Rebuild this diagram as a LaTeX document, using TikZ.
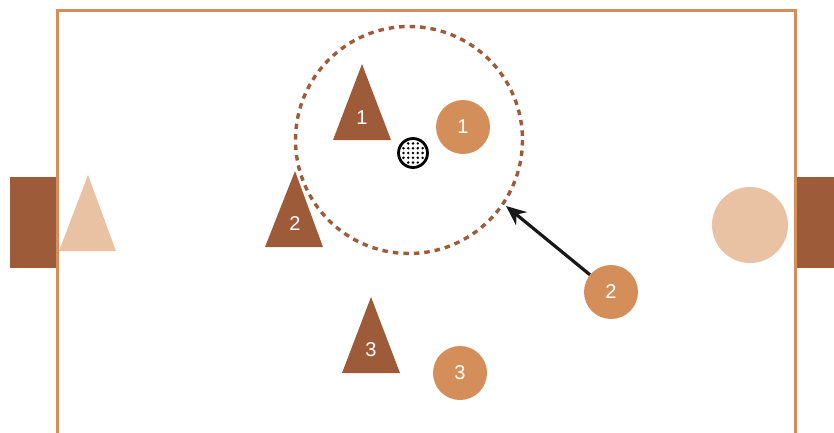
\documentclass[tikz,border=0pt]{standalone}
\usepackage{fontspec}
\setmainfont{Liberation Sans}
\usetikzlibrary{arrows.meta}
\definecolor{darkbrown}{HTML}{9E5B3A}
\definecolor{tan}{HTML}{D38E5A}
\definecolor{lighttan}{HTML}{E8C2A2}
\tikzset{
    player/.style={circle,fill=tan,minimum size=54pt,inner sep=0pt,text=white,
                   font=\fontsize{20}{20}\selectfont},
    num/.style={text=white,font=\fontsize{20}{20}\selectfont},
}
\begin{document}
\begin{tikzpicture}[x=1pt,y=-1pt]
                \useasboundingbox (0,0) rectangle (834,432);
                % field and goals
                \draw[tan,line width=3pt] (57,440) -- (57,10) -- (795,10) -- (795,440);
                \fill[darkbrown] (10,177) rectangle (55.5,268);
                \fill[darkbrown] (796.5,177) rectangle (834,268);
                \fill[lighttan] (88,175) -- (116,251) -- (59,251) -- cycle;
                \fill[lighttan] (750,225) circle (38);
                % zone round the ball
                \draw[darkbrown,line width=3.4pt,dash pattern=on 5.5pt off 5pt] (409,140) circle (113.5);
                \coordinate (zone) at (506,206);
                % triangles
                \fill[darkbrown] (362,64) -- (391,140) -- (333,140) -- cycle;
                \fill[darkbrown] (295,171) -- (323,247) -- (265,247) -- cycle;
                \fill[darkbrown] (371,297) -- (400,373) -- (342,373) -- cycle;
                \node[num] (t1) at (362,118) {1};
                \node[num] (t2) at (295,224) {2};
                \node[num] (t3) at (371,350) {3};
                % circles
                \node[player] (c1) at (463,127) {1};
                \node[player] (c2) at (611,292) {2};
                \node[player] (c3) at (460,373) {3};
                % ball
                \node[circle,draw=black,line width=2.8pt,minimum size=29pt,inner sep=0pt] (ball) at (413,153) {};
                \begin{scope}
                    \clip (ball.center) circle (12);
                    \foreach \i in {-3,...,3}
                        \foreach \j in {-3,...,3}
                            \fill (413+\i*4.8,153+\j*4.8) circle (1.4);
                \end{scope}
                \draw[black!90,line width=3.2pt,-{Stealth[length=20pt,width=17pt]}] (c2) -- (zone);
            \end{tikzpicture}
\end{document}
